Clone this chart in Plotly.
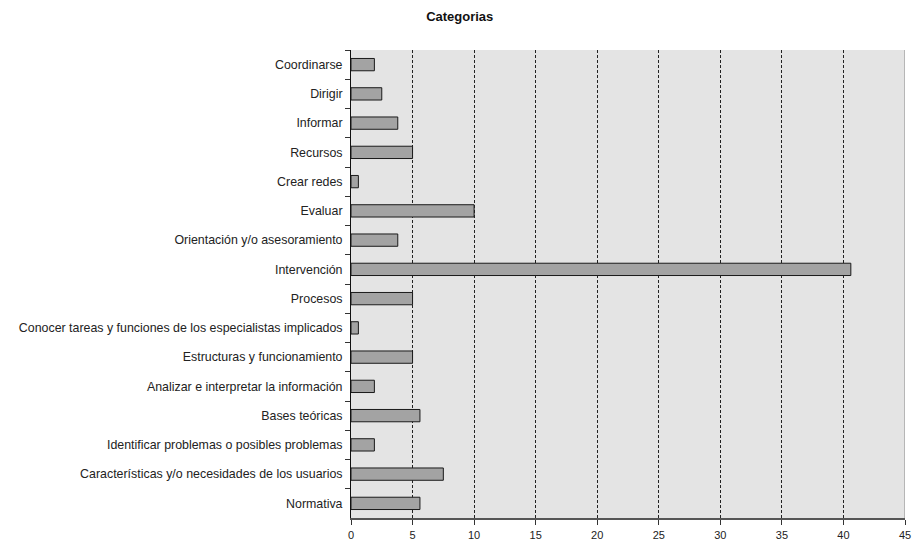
import plotly.graph_objects as go

categories = [
    "Coordinarse", "Dirigir", "Informar", "Recursos", "Crear redes", "Evaluar",
    "Orientación y/o asesoramiento", "Intervención", "Procesos",
    "Conocer tareas y funciones de los especialistas implicados",
    "Estructuras y funcionamiento", "Analizar e interpretar la información",
    "Bases teóricas", "Identificar problemas o posibles problemas",
    "Características y/o necesidades de los usuarios", "Normativa",
]
values = [1.9, 2.5, 3.8, 5.0, 0.6, 10.0, 3.8, 40.6, 5.0, 0.6, 5.0, 1.9, 5.6, 1.9, 7.5, 5.6]
x_ticks = [0, 5, 10, 15, 20, 25, 30, 35, 40, 45]

fig = go.Figure()
fig.add_trace(go.Bar(
    y=categories, x=values, orientation="h",
    marker=dict(color="#a3a3a3", line=dict(color="#1a1a1a", width=1)),
    width=0.42,
))

fig.update_layout(
    width=914, height=543,
    margin=dict(l=351, r=9, t=50, b=25, autoexpand=False),
    paper_bgcolor="white", plot_bgcolor="#e4e4e4",
    font=dict(family="Arial, Liberation Sans, sans-serif", size=12, color="#222"),
    title=dict(text="<b>Categorias</b>", x=0.503, xanchor="center", y=0.9705, yanchor="middle",
               font=dict(size=13, color="#111")),
    showlegend=False,
)
fig.update_xaxes(
    range=[0, 45], tickvals=x_ticks, ticks="outside", ticklen=5, tickcolor="#333",
    showline=True, linecolor="#555", linewidth=2, mirror=False,
    showgrid=True, gridcolor="#222", gridwidth=1, griddash="3px,2px",
    zeroline=False, tickfont=dict(size=11), automargin=False, ticklabelstandoff=1,
)
fig.update_yaxes(
    categoryorder="array", categoryarray=categories, autorange="reversed",
    ticks="outside", ticklen=5, tickcolor="#333", tickson="boundaries",
    showline=True, linecolor="#111", linewidth=1, showgrid=False,
    tickfont=dict(size=12.4), automargin=False, ticklabelstandoff=5,
)
fig.add_shape(type="line", xref="x", yref="paper", x0=45, x1=45, y0=0, y1=1,
              line=dict(color="#888", width=1))
fig.write_html("out.html")
